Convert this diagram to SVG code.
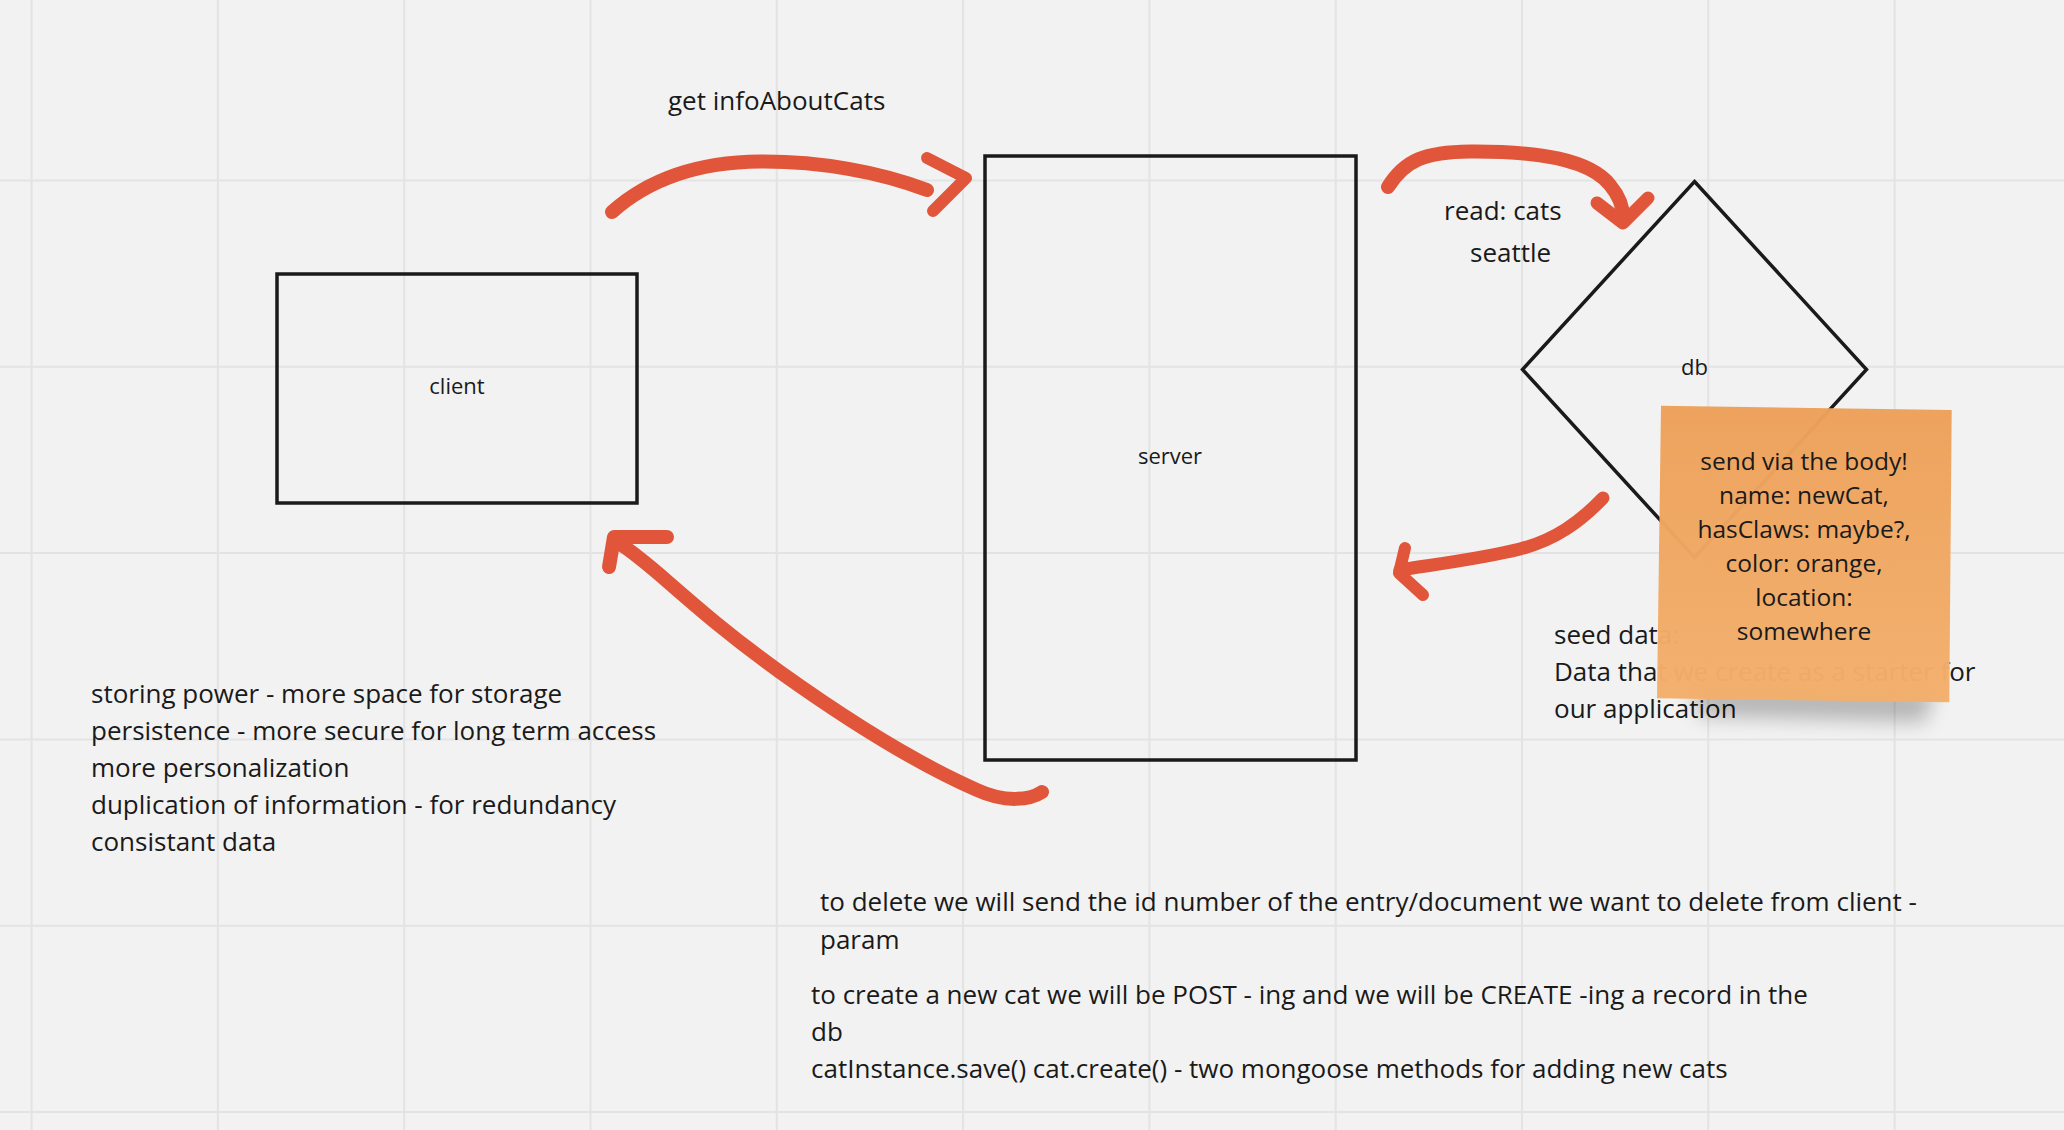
<svg xmlns="http://www.w3.org/2000/svg" width="2064" height="1130" viewBox="0 0 2064 1130">
<defs>
<style>
.grid line{stroke:#e3e3e3;stroke-width:2}
.shape{fill:none;stroke:#1a1a1a;stroke-width:3.5}
.lbl{font-family:"Open Sans","Liberation Sans",sans-serif;font-size:22px;fill:#1a1a1a;text-anchor:middle}
.txt{font-family:"Open Sans","Liberation Sans",sans-serif;font-size:26px;fill:#1a1a1a}
.stk{font-family:"Open Sans","Liberation Sans",sans-serif;font-size:24.5px;fill:#1a1a1a;text-anchor:middle}
.pen{fill:none;stroke:#e1563a;stroke-linecap:round;stroke-linejoin:round}
</style>
<linearGradient id="stickyFill" x1="0" y1="0" x2="0" y2="1">
<stop offset="0" stop-color="#eda15a"/>
<stop offset="1" stop-color="#f3af6c"/>
</linearGradient>
<filter id="blur" x="-20%" y="-50%" width="140%" height="200%">
<feGaussianBlur stdDeviation="10"/>
</filter>
</defs>
<rect width="2064" height="1130" fill="#f2f2f2"/>
<g class="grid" id="grid">
<line x1="31.6" y1="0" x2="31.6" y2="1130"/>
<line x1="217.9" y1="0" x2="217.9" y2="1130"/>
<line x1="404.2" y1="0" x2="404.2" y2="1130"/>
<line x1="590.5" y1="0" x2="590.5" y2="1130"/>
<line x1="776.8" y1="0" x2="776.8" y2="1130"/>
<line x1="963.1" y1="0" x2="963.1" y2="1130"/>
<line x1="1149.4" y1="0" x2="1149.4" y2="1130"/>
<line x1="1335.7" y1="0" x2="1335.7" y2="1130"/>
<line x1="1522" y1="0" x2="1522" y2="1130"/>
<line x1="1708.3" y1="0" x2="1708.3" y2="1130"/>
<line x1="1894.6" y1="0" x2="1894.6" y2="1130"/>
<line x1="0" y1="180.5" x2="2064" y2="180.5"/>
<line x1="0" y1="366.8" x2="2064" y2="366.8"/>
<line x1="0" y1="553.1" x2="2064" y2="553.1"/>
<line x1="0" y1="739.4" x2="2064" y2="739.4"/>
<line x1="0" y1="925.7" x2="2064" y2="925.7"/>
<line x1="0" y1="1112" x2="2064" y2="1112"/>
</g>
<g id="node-client">
<rect class="shape" x="277" y="274" width="360" height="229"/>
<text class="lbl" x="457" y="394">client</text>
</g>
<g id="node-server">
<rect class="shape" x="985" y="156" width="371" height="604"/>
<text class="lbl" x="1170" y="464">server</text>
</g>
<g id="node-db">
<polygon class="shape" points="1694.5,181.5 1866.5,369.5 1694.5,557.5 1522.5,369.5"/>
<text class="lbl" x="1694.5" y="375">db</text>
</g>
<g id="connectors">
<path class="pen" stroke-width="14" d="M612,212 C650,178 700,162 760,161.5 C820,161 880,172 927,190"/>
<path class="pen" stroke-width="12" d="M927,158 L966,178 L933,211"/>
<path class="pen" stroke-width="14" d="M1388,187 C1405,160 1425,152 1470,151.5 C1540,151 1590,160 1610,185 C1620,197 1623,207 1623,217"/>
<path class="pen" stroke-width="13" d="M1597,203 L1623,223 L1648,198"/>
<path class="pen" stroke-width="13" d="M1603,498 C1580,522 1555,540 1520,549 C1480,559 1430,565 1400,570"/>
<path class="pen" stroke-width="12" d="M1405,548 L1399,573 L1423,595"/>
<path class="pen" stroke-width="14" d="M1042,792 C1030,800 1005,803 977,790 C920,765 850,722 780,672 C730,636 700,610 660,575 C640,558 625,546 615,541"/>
<path class="pen" stroke-width="14" d="M667,537 L614,537 L609,567"/>
</g>
<g id="texts">
<text class="txt" x="668" y="110">get infoAboutCats</text>
<text class="txt" x="1444" y="220">read: cats</text>
<text class="txt" x="1470" y="262">seattle</text>
<text class="txt" x="91" y="703">storing power - more space for storage</text>
<text class="txt" x="91" y="740">persistence - more secure for long term access</text>
<text class="txt" x="91" y="777">more personalization</text>
<text class="txt" x="91" y="814">duplication of information - for redundancy</text>
<text class="txt" x="91" y="851">consistant data</text>
<text class="txt" x="820" y="911">to delete we will send the id number of the entry/document we want to delete from client -</text>
<text class="txt" x="820" y="948.5">param</text>
<text class="txt" x="811" y="1004">to create a new cat we will be POST - ing and we will be CREATE -ing a record in the</text>
<text class="txt" x="811" y="1041">db</text>
<text class="txt" x="811" y="1077.5">catInstance.save() cat.create() - two mongoose methods for adding new cats</text>
<text class="txt" x="1554" y="644">seed data:</text>
<text class="txt" x="1554" y="681">Data that we create as a starter for</text>
<text class="txt" x="1554" y="718">our application</text>
</g>
<g id="note-sticky">
<path d="M1690,684 L1935,688 L1925,722 L1700,716 Z" fill="#000" opacity="0.25" filter="url(#blur)"/>
<polygon points="1661,405.7 1951.7,410 1949.3,702.3 1657,698.3" fill="url(#stickyFill)" opacity="0.975"/>
<text class="stk" x="1804" y="470">send via the body!</text>
<text class="stk" x="1804" y="504">name: newCat,</text>
<text class="stk" x="1804" y="538">hasClaws: maybe?,</text>
<text class="stk" x="1804" y="572">color: orange,</text>
<text class="stk" x="1804" y="606">location:</text>
<text class="stk" x="1804" y="640">somewhere</text>
</g>
</svg>
